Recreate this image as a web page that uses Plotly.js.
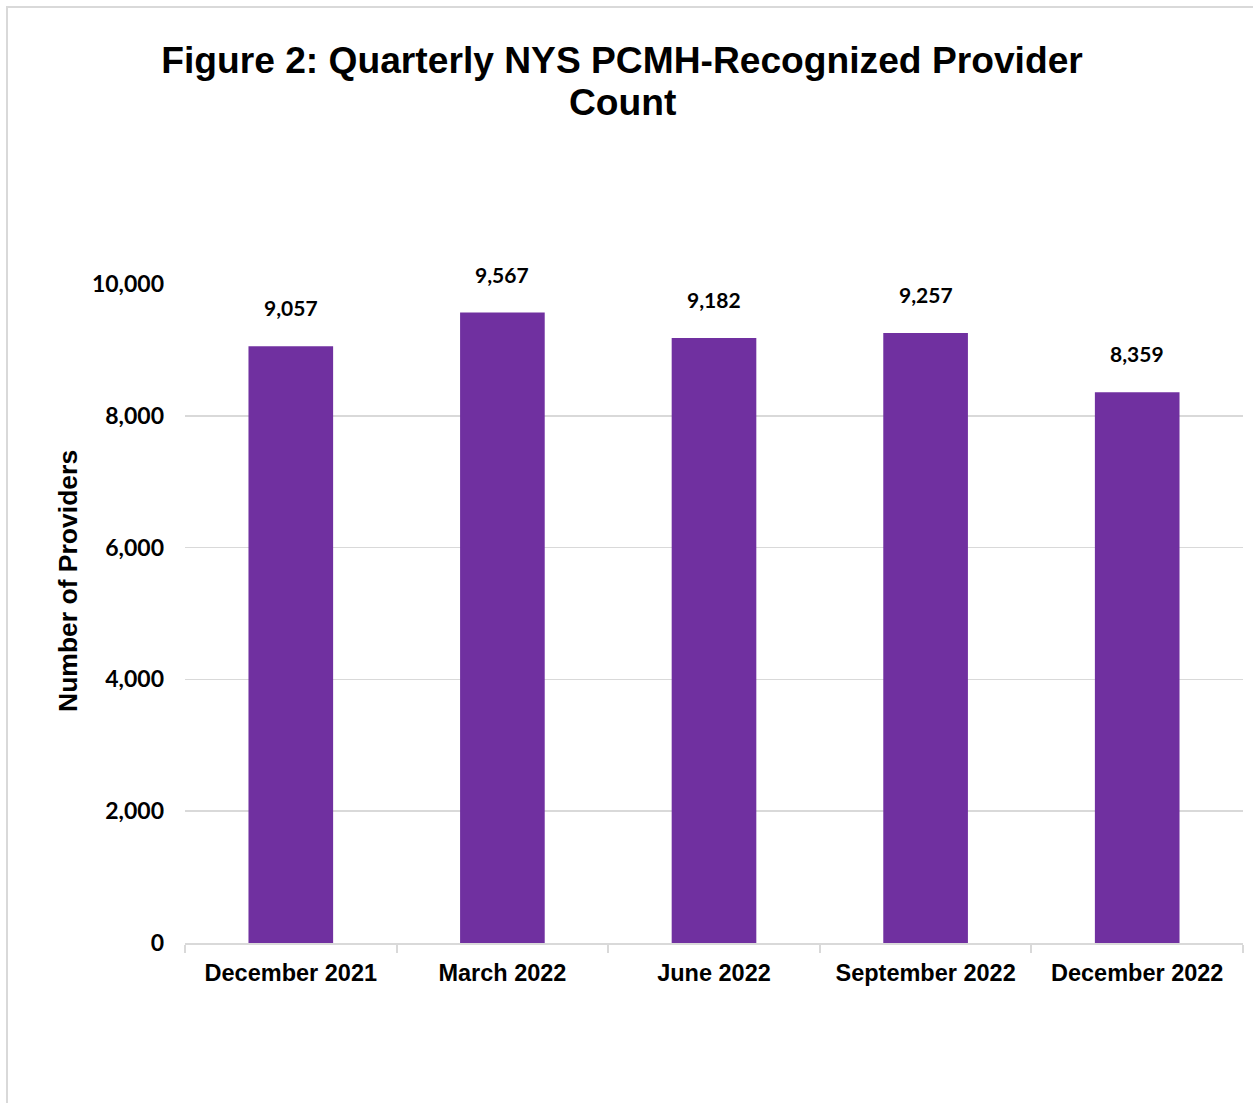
<!DOCTYPE html>
<html>
<head>
<meta charset="utf-8">
<script src="https://cdn.plot.ly/plotly-3.0.1.min.js"></script>
<style>
  html, body { margin: 0; padding: 0; background: #ffffff; overflow: hidden; }
  #chart { position: absolute; left: 0; top: 0; width: 1253px; height: 1103px; }
  #frame { position: absolute; left: 6px; top: 6px; width: 1400px; height: 1300px;
           border-left: 2px solid #d9d9d9; border-top: 2px solid #d9d9d9; pointer-events: none; }
</style>
</head>
<body>
<div id="chart"></div>
<div id="frame"></div>
<script>
const categories = ["December 2021", "March 2022", "June 2022", "September 2022", "December 2022"];
const providerCounts = [9057, 9567, 9182, 9257, 8359];
const yTickValues = [0, 2000, 4000, 6000, 8000, 10000];
const titleLine1 = "Figure 2: Quarterly NYS PCMH-Recognized Provider";
const titleLine2 = "Count";
const yAxisTitle = "Number of Providers";

const arial = "Liberation Sans, Arial, sans-serif";
const calibriLike = "Lato, Carlito, Calibri, sans-serif";

const trace = {
  type: "bar",
  x: categories,
  y: providerCounts,
  marker: { color: "#7030A0" },
  hoverinfo: "x+y"
};

const valueLabels = categories.map((c, i) => ({
  x: c, y: providerCounts[i], xref: "x", yref: "y",
  text: providerCounts[i].toLocaleString("en-US"),
  showarrow: false, yanchor: "bottom", yshift: 24,
  font: { family: calibriLike, size: 21, color: "#000000", weight: "bold" }
}));

const layout = {
  width: 1253, height: 1103,
  margin: { l: 185, r: 10, t: 284, b: 160, pad: 0 },
  paper_bgcolor: "#ffffff",
  plot_bgcolor: "#ffffff",
  showlegend: false,
  bargap: 0.6,
  title: {
    text: titleLine1,
    x: 622 / 1253, xanchor: "center", xref: "container",
    y: 1 - 60 / 1103, yanchor: "middle", yref: "container",
    font: { family: arial, size: 37.2, color: "#000000", weight: "bold" }
  },
  xaxis: {
    type: "category",
    showline: true, linecolor: "#d9d9d9", linewidth: 2,
    ticks: "outside", tickson: "boundaries", ticklen: 8, tickwidth: 2, tickcolor: "#d9d9d9",
    ticklabelstandoff: 8,
    showgrid: false, zeroline: false,
    tickfont: { family: arial, size: 23.5, color: "#000000", weight: "bold" }
  },
  yaxis: {
    range: [0, 10000],
    tickvals: yTickValues,
    tickformat: ",d",
    showgrid: true, gridcolor: "#d9d9d9", gridwidth: 1.5,
    zeroline: false, showline: false, ticks: "",
    ticklabelstandoff: 20,
    tickfont: { family: calibriLike, size: 23, color: "#000000", weight: "bold" }
  },
  annotations: valueLabels.concat([
    {
      text: titleLine2, xref: "paper", yref: "paper",
      x: (622 - 185) / 1058, y: (943 - 102) / 659,
      xanchor: "center", yanchor: "middle", showarrow: false,
      font: { family: arial, size: 37.2, color: "#000000", weight: "bold" }
    },
    {
      text: yAxisTitle, xref: "paper", yref: "paper",
      x: (68 - 185) / 1058, y: (943 - 581) / 659,
      xanchor: "center", yanchor: "middle", showarrow: false, textangle: -90,
      font: { family: arial, size: 26.5, color: "#000000", weight: "bold" }
    }
  ])
};

Plotly.newPlot("chart", [trace], layout, { displayModeBar: false, staticPlot: true });
</script>
</body>
</html>
